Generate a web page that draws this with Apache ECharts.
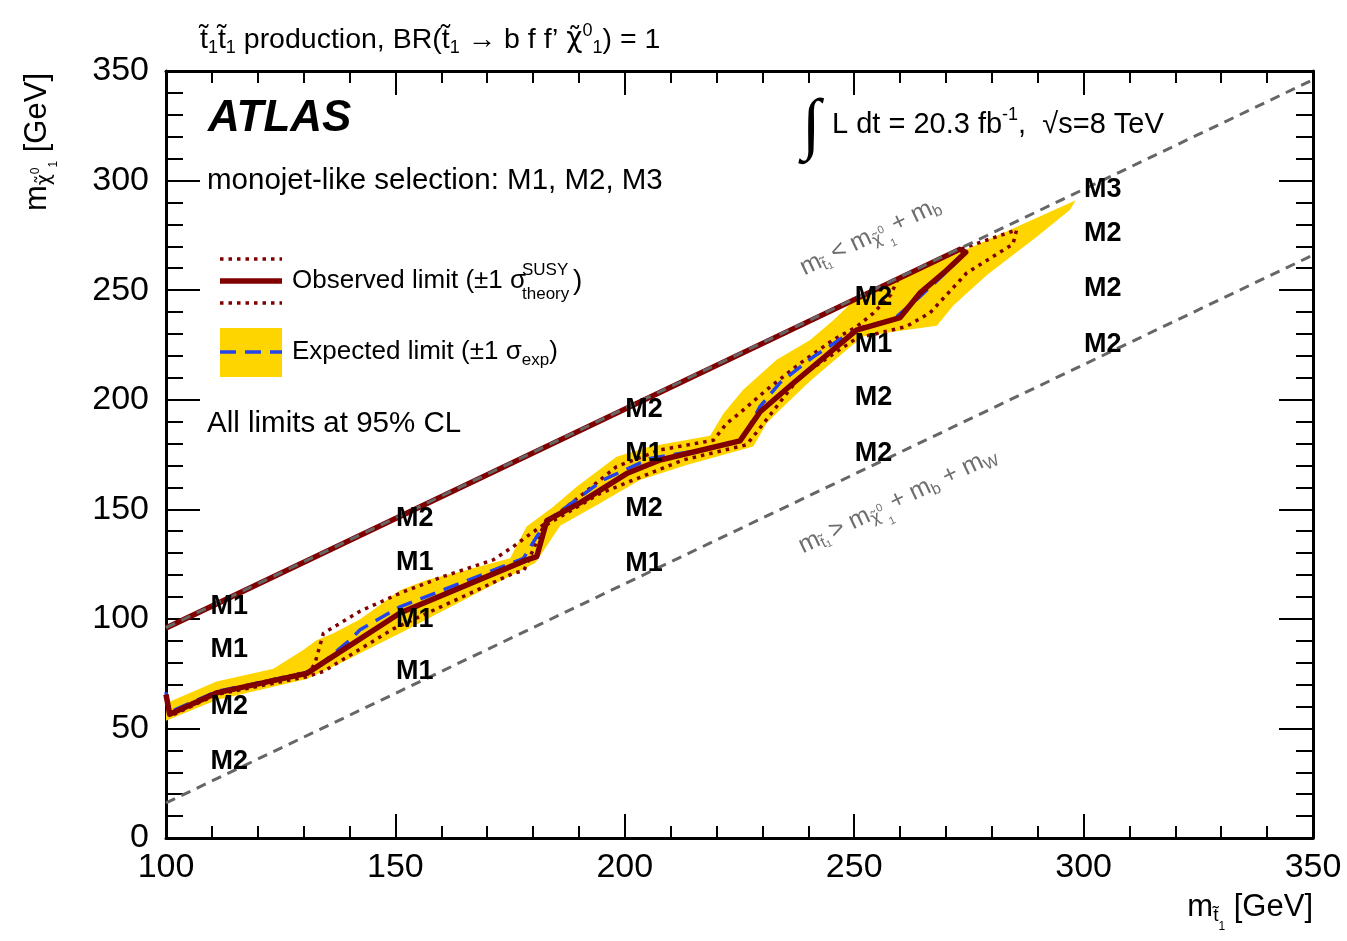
<!DOCTYPE html>
<html><head><meta charset="utf-8">
<script src="https://cdn.jsdelivr.net/npm/echarts@6/dist/echarts.min.js"></script>
<style>html,body{margin:0;padding:0;background:#fff}#c{width:1347px;height:941px}</style>
</head><body><div id="c"></div><script>
const FONT = '"Liberation Sans", Arial, Helvetica, sans-serif';
const GFONT = '"DejaVu Sans", sans-serif';

// ---- data (m_stop, m_neutralino) in GeV ----
const kinUpper = [[100, 96], [350, 346]];
const kinLower = [[100, 16], [350, 266]];

const observed = [[100, 65.5], [100.8, 56.5], [111, 66.2], [130.7, 75.1], [134.2, 79.9], [145.9, 95.7], [151, 102.7],
  [178.6, 126.9], [180.8, 128.4], [183, 144.8], [190.2, 152.9], [200.4, 166.3], [207.7, 172.5], [225.1, 181.2],
  [229.5, 194.5], [236.7, 207.5], [250.5, 231.8], [260, 237.5], [264.3, 248.6], [270.2, 259.2], [274.3, 267.3],
  [273, 268.6], [100, 95.8]];

const expected = [[100, 66.5], [100.8, 57.5], [111, 66.8], [130.7, 75.5], [133.6, 79], [140.1, 90.4], [142.3, 95],
  [151, 105.5], [164.1, 116.2], [177.9, 127.6], [180.8, 137.5], [183, 144.5], [195.3, 163.4], [205.5, 173.2],
  [216.4, 177], [225.5, 181.5], [229.5, 197], [233.8, 207.7], [241.1, 219.6], [248.4, 229.6], [252, 233.3],
  [258.5, 236.5], [264.3, 247], [270.2, 258.5], [274.2, 267]];

const obsUp = [[100, 65.5], [100.8, 57], [111, 66.5], [131.4, 76], [132.5, 80], [134.3, 93.4], [142.3, 103.5],
  [151, 111.7], [160.4, 119.3], [171.3, 126.9], [175.7, 133], [178.6, 137.5], [183.7, 145.1], [191, 157.2],
  [198.2, 169.5], [207.7, 177.1], [219.3, 181.5], [222.2, 189.2], [225.1, 194], [230.9, 204.5], [238.2, 216.6],
  [245.4, 227.3], [250.5, 233.3], [254.2, 239.5], [258, 248], [259.5, 255], [100, 95.8]];

const obsDown = [[100, 65], [100.8, 55.5], [111, 65.5], [130.7, 73.6], [134.3, 76], [149.6, 95.5], [175.7, 120.8],
  [178, 122], [180, 131.4], [182.2, 142], [194.6, 157.2], [212.7, 172.5], [226.5, 179.4], [228, 183.2],
  [238.2, 210.6], [250.5, 228], [261.4, 233.4], [266.5, 239.6], [274.5, 257.8], [284.6, 271], [285.4, 277.5],
  [273, 268.6], [100, 95.8]];

const bandLower = [[100, 53.5], [111, 63], [130.7, 72.5], [139.4, 81.2], [151, 93.4], [178.6, 123.5], [180.5, 125.5],
  [185.9, 142.5], [194.6, 152.7], [203.3, 163.4], [213.5, 170.2], [228, 178.6], [230.9, 189.3], [233.8, 195.3],
  [240.4, 208.5], [249.1, 224], [252, 228.8], [258.5, 231], [268, 233.8], [271.6, 243], [279, 257],
  [289.8, 274.4], [297, 286.6], [298.3, 291]];
const bandUpper = [[100, 61.5], [111, 71.4], [123.4, 77.2], [129.9, 85.8], [132.8, 90.2], [136.5, 93.4], [142.3, 99.8],
  [145.2, 104.1], [151, 113], [156.8, 117.7], [164.1, 121.5], [175, 127.6], [178.6, 142.1], [184.4, 151.2],
  [189.5, 160.3], [198.2, 174], [205.5, 178.6], [218.6, 183.6], [221.5, 193.7], [225.8, 204.5], [233.1, 218.2],
  [240.4, 227.3], [246, 237.3], [250, 245.5], [298.3, 291]];

// selection labels at grid points
const selX = [109.6, 109.6, 109.6, 109.6, 150, 150, 150, 150, 200, 200, 200, 200, 250, 250, 250, 250, 300, 300, 300, 300];
const selY = [105.4, 85.8, 60.2, 34.7, 145.6, 125.5, 99.5, 75.8, 195.3, 175.3, 150.2, 125.1, 246.5, 225, 200.8, 175.3, 295.8, 275.7, 250.6, 225];
const selText = ['M1', 'M1', 'M2', 'M2', 'M2', 'M1', 'M1', 'M1', 'M2', 'M1', 'M2', 'M1', 'M2', 'M1', 'M2', 'M2', 'M3', 'M2', 'M2', 'M2'];

const xTickLabels = ['100', '150', '200', '250', '300', '350'];
const yTickLabels = ['0', '50', '100', '150', '200', '250', '300', '350'];

// ---- colours ----
const RED = '#800000', YEL = '#ffd500', BLUE = '#2244ee', GREY = '#666666', TGREY = '#6e6e6e';

const chart = echarts.init(document.getElementById('c'), null, {renderer: 'canvas'});

function axisBase(pos, showLabel, isX) {
  return {
    type: 'value', position: pos,
    min: isX ? 100 : 0, max: 350, interval: 50,
    axisLine: {show: true, onZero: false, lineStyle: {color: '#000', width: 3}},
    axisTick: {show: true, inside: true, length: isX ? 24 : 34, lineStyle: {color: '#000', width: 2}},
    minorTick: {show: true, splitNumber: 5, length: isX ? 12 : 17, lineStyle: {color: '#000', width: 2}},
    splitLine: {show: false},
    axisLabel: {
      show: showLabel, fontSize: 34, color: '#000', fontFamily: FONT, margin: isX ? 13 : 17,
      showMinLabel: true, showMaxLabel: true,
      formatter: function (v) {
        const arr = isX ? xTickLabels : yTickLabels;
        const idx = Math.round((v - (isX ? 100 : 0)) / 50);
        return arr[idx] !== undefined ? arr[idx] : '';
      }
    }
  };
}

const selData = selX.map((x, i) => [x, selY[i], selText[i]]);

const greyRich = {
  m: {fontSize: 25, color: TGREY, fontFamily: FONT},
  s: {fontSize: 16, color: TGREY, fontFamily: FONT, padding: [13, 0, 0, 0]},
  c: {fontSize: 16, color: TGREY, fontFamily: GFONT, padding: [13, 0, 0, 0]},
  z: {fontSize: 11, color: TGREY, fontFamily: FONT, padding: [0, 0, 2, 0]},
  o: {fontSize: 11, color: TGREY, fontFamily: FONT, padding: [32, 0, 0, 0]}
};

function lineSeries(data, color, width, dash, z) {
  return {
    type: 'line', data: data, showSymbol: false, symbol: 'none', silent: true, z: z,
    lineStyle: {color: color, width: width, type: dash, cap: 'butt', join: 'round'},
    animation: false
  };
}

const hiddenItem = {color: 'rgba(0,0,0,0)', opacity: 1};

const option = {
  animation: false,
  backgroundColor: '#fff',
  grid: {left: 166, right: 34, top: 71, bottom: 103, containLabel: false},
  xAxis: [axisBase('bottom', true, true), axisBase('top', false, true)],
  yAxis: [axisBase('left', true, false), axisBase('right', false, false)],
  series: [
    {
      type: 'custom', z: 1, silent: true, animation: false,
      data: [[200, 150]],
      renderItem: function (params, api) {
        const pts = bandLower.concat(bandUpper.slice().reverse()).map(p => api.coord(p));
        return {type: 'polygon', shape: {points: pts}, style: {fill: YEL, stroke: null}};
      },
      clip: true
    },
    lineSeries(obsUp, RED, 3.5, [3.5, 5], 2),
    lineSeries(obsDown, RED, 3.5, [3.5, 5], 2),
    lineSeries(expected, BLUE, 3.5, [16, 9], 3),
    lineSeries(observed, RED, 5.5, 'solid', 4),
    lineSeries(kinUpper, GREY, 3, [10, 7], 5),
    lineSeries(kinLower, GREY, 3, [10, 7], 5),
    {
      type: 'scatter', z: 6, silent: true, symbolSize: 1, itemStyle: hiddenItem,
      data: selData,
      label: {
        show: true, position: 'right', distance: 0, align: 'left', verticalAlign: 'middle', opacity: 1,
        fontSize: 27, fontWeight: 'bold', color: '#000000', fontFamily: FONT,
        formatter: p => p.data[2]
      }
    },
    {
      type: 'scatter', z: 6, silent: true, symbolSize: 1, itemStyle: hiddenItem,
      data: [[253.5, 274.5]],
      label: {
        show: true, position: 'inside', rotate: 25.5, align: 'center', verticalAlign: 'middle', opacity: 1,
        formatter: '{m|m}{s|t\u0303\u2081} {m|< m}{c|\u03c7\u0303}{z|0}{o|1} {m|+ m}{s|b}',
        rich: greyRich
      }
    },
    {
      type: 'scatter', z: 6, silent: true, symbolSize: 1, itemStyle: hiddenItem,
      data: [[259.5, 154]],
      label: {
        show: true, position: 'inside', rotate: 25.5, align: 'center', verticalAlign: 'middle', opacity: 1,
        formatter: '{m|m}{s|t\u0303\u2081} {m|> m}{c|\u03c7\u0303}{z|0}{o|1} {m|+ m}{s|b}{m| + m}{s|W}',
        rich: greyRich
      }
    }
  ],
  graphic: [
    // title
    {type: 'text', x: 200, y: 40, silent: true, style: {
      text: '{a|t\u0303}{s|1}{a|t\u0303}{s|1}{a| production, BR(t\u0303}{s|1}{a| \u2192 b f f\u2019 }{c|\u03c7\u0303}{p|0}{s|1}{a|) = 1}',
      align: 'left', verticalAlign: 'middle',
      rich: {
        a: {fontSize: 28.5, fontFamily: FONT, fill: '#000'},
        c: {fontSize: 28, fontFamily: GFONT, fill: '#000'},
        s: {fontSize: 18, fontFamily: FONT, fill: '#000', padding: [16, 0, 0, 0]},
        p: {fontSize: 18, fontFamily: FONT, fill: '#000', padding: [0, 0, 18, 0]}
      }
    }},
    {type: 'text', x: 208, y: 119, silent: true, style: {
      text: 'ATLAS', fontSize: 44, fontWeight: 'bold', fontStyle: 'italic', fontFamily: FONT, fill: '#000',
      align: 'left', verticalAlign: 'middle'}},
    {type: 'text', x: 207, y: 181, silent: true, style: {
      text: 'monojet-like selection: M1, M2, M3', fontSize: 29.5, fontFamily: FONT, fill: '#000',
      align: 'left', verticalAlign: 'middle'}},
    {type: 'text', x: 207, y: 424, silent: true, style: {
      text: 'All limits at 95% CL', fontSize: 29.5, fontFamily: FONT, fill: '#000',
      align: 'left', verticalAlign: 'middle'}},
    // luminosity
    {type: 'text', x: 811, y: 128, silent: true, style: {
      text: '\u222b', fontSize: 68, fontWeight: 'bold', fontFamily: '"Liberation Serif", serif', fill: '#000',
      align: 'center', verticalAlign: 'middle'}},
    {type: 'text', x: 832, y: 125, silent: true, style: {
      text: '{a|L dt = 20.3 fb}{p|-1}{a|,  \u221as=8 TeV}',
      align: 'left', verticalAlign: 'middle',
      rich: {
        a: {fontSize: 29, fontFamily: FONT, fill: '#000'},
        p: {fontSize: 18, fontFamily: FONT, fill: '#000', padding: [0, 0, 20, 0]}
      }
    }},
    // legend symbols
    {type: 'line', silent: true, shape: {x1: 220, y1: 259, x2: 282, y2: 259}, style: {stroke: RED, lineWidth: 3.5, lineDash: [3.5, 5]}},
    {type: 'line', silent: true, shape: {x1: 220, y1: 281, x2: 282, y2: 281}, style: {stroke: RED, lineWidth: 5.5}},
    {type: 'line', silent: true, shape: {x1: 220, y1: 303, x2: 282, y2: 303}, style: {stroke: RED, lineWidth: 3.5, lineDash: [3.5, 5]}},
    {type: 'rect', silent: true, shape: {x: 220, y: 328, width: 62, height: 49}, style: {fill: YEL}},
    {type: 'line', silent: true, shape: {x1: 220, y1: 352, x2: 282, y2: 352}, style: {stroke: BLUE, lineWidth: 3.5, lineDash: [16, 9]}},
    // legend texts
    {type: 'text', x: 292, y: 281, silent: true, style: {
      text: 'Observed limit (\u00b11 \u03c3', fontSize: 26, fontFamily: FONT, fill: '#000', align: 'left', verticalAlign: 'middle'}},
    {type: 'text', x: 522, y: 270, silent: true, style: {
      text: 'SUSY', fontSize: 17, fontFamily: FONT, fill: '#000', align: 'left', verticalAlign: 'middle'}},
    {type: 'text', x: 522, y: 294, silent: true, style: {
      text: 'theory', fontSize: 17, fontFamily: FONT, fill: '#000', align: 'left', verticalAlign: 'middle'}},
    {type: 'text', x: 573, y: 281, silent: true, style: {
      text: ')', fontSize: 28, fontFamily: FONT, fill: '#000', align: 'left', verticalAlign: 'middle'}},
    {type: 'text', x: 292, y: 352, silent: true, style: {
      text: '{a|Expected limit (\u00b11 \u03c3}{s|exp}{a|)}',
      align: 'left', verticalAlign: 'middle',
      rich: {
        a: {fontSize: 26, fontFamily: FONT, fill: '#000'},
        s: {fontSize: 17, fontFamily: FONT, fill: '#000', padding: [16, 0, 0, 0]}
      }
    }},
    // axis titles
    {type: 'text', x: 37, y: 142, rotation: Math.PI / 2, silent: true, style: {
      text: '{m|m}{s|\u03c7\u0303}{z|0}{o|1}{m| [GeV]}',
      align: 'center', verticalAlign: 'middle',
      rich: {
        m: {fontSize: 31, fontFamily: FONT, fill: '#000'},
        s: {fontSize: 19, fontFamily: GFONT, fill: '#000', padding: [16, 0, 0, 0]},
        z: {fontSize: 12, fontFamily: FONT, fill: '#000', padding: [0, 0, 2, 0]},
        o: {fontSize: 12, fontFamily: FONT, fill: '#000', padding: [34, 0, 0, 0]}
      }
    }},
    {type: 'text', x: 1313, y: 907, silent: true, style: {
      text: '{m|m}{s|t\u0303}{o|1}{m| [GeV]}',
      align: 'right', verticalAlign: 'middle',
      rich: {
        m: {fontSize: 31, fontFamily: FONT, fill: '#000'},
        s: {fontSize: 19, fontFamily: FONT, fill: '#000', padding: [18, 0, 0, 0]},
        o: {fontSize: 12, fontFamily: FONT, fill: '#000', padding: [40, 0, 0, 0]}
      }
    }}
  ]
};
chart.setOption(option);
</script></body></html>
